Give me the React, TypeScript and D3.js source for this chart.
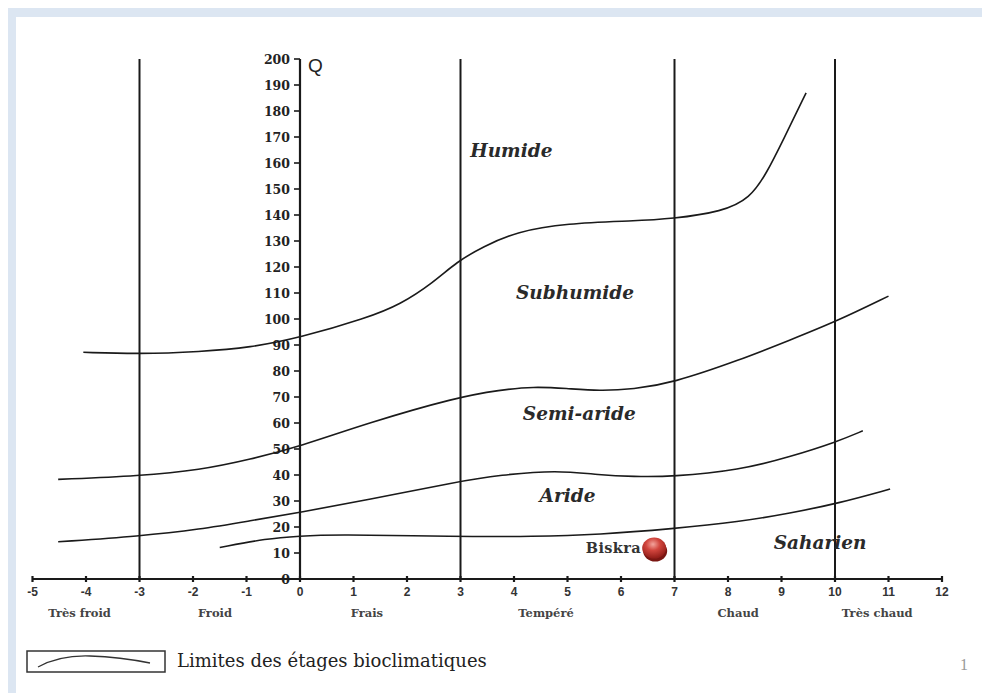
import * as d3 from "d3";

// Emberger climagramme: Q2 versus m (°C)
const xTicks = [-5, -4, -3, -2, -1, 0, 1, 2, 3, 4, 5, 6, 7, 8, 9, 10, 11, 12];
const yTicks = d3.range(0, 201, 10);
const dividers = [-3, 3, 7, 10];

const zoneNames = ["Très froid", "Froid", "Frais", "Tempéré", "Chaud", "Très chaud"];
const zoneAt = [-4.12, -1.59, 1.25, 4.6, 8.19, 10.79];

const stageNames = ["Humide", "Subhumide", "Semi-aride", "Aride", "Saharien"];
const stageM = [3.95, 5.14, 5.22, 5.0, 9.72];
const stageQ = [164.6, 110, 63.5, 32, 14];

// limits between stages
const humideM = [-4.05, -3, -1.87, -0.93, 0, 1.25, 1.87, 2.49, 2.93, 3.42, 4.05, 4.98, 6.23, 6.95, 7.9, 8.41, 8.72, 9.03, 9.46];
const humideQ = [87.2, 86.5, 87.4, 89, 92.8, 100.4, 105.5, 114, 122, 127.8, 133.6, 136.8, 137.7, 138.5, 141.3, 146.4, 156, 168.8, 187];
const subhumideM = [-4.52, -2.99, -1.87, -0.93, 0, 1.25, 2.93, 3.74, 4.36, 4.98, 5.6, 6.23, 6.95, 8.22, 9.16, 10.04, 11.0];
const subhumideQ = [38.3, 39.7, 41.9, 46, 51, 59.9, 69.9, 72.7, 74, 73.3, 72.3, 73, 75.3, 84.2, 91.9, 99.2, 108.8];
const semiAridM = [-4.52, -2.99, -1.87, -0.93, 0, 1.25, 2.93, 3.74, 4.8, 5.6, 6.23, 6.95, 8.22, 9.16, 10.04, 10.52];
const semiAridQ = [14.3, 16.5, 19.1, 22.4, 25.6, 30.4, 37.4, 40, 41.9, 40, 39.4, 39.3, 41.9, 47, 52.8, 57];
const aridM = [-1.5, -0.62, 0, 0.62, 2.93, 4.36, 5.6, 6.95, 8.22, 9.16, 10.06, 11.03];
const aridQ = [12.1, 15.6, 16.5, 17.2, 16.3, 16.3, 17.1, 19.3, 22, 25.3, 29.1, 34.6];

const station = "Biskra";
const stationM = 6.62;
const stationQ = 11.9;

const W = 982;
const H = 693;

export default function App() {
  const x = d3.scaleLinear().domain([-5, 12]).range([32.5, 942]);
  const y = d3.scaleLinear().domain([0, 200]).range([579, 59]);

  const line = d3
    .line<[number, number]>()
    .x((d) => x(d[0]))
    .y((d) => y(d[1]))
    .curve(d3.curveBasis);

  const curves = [
    [humideM, humideQ],
    [subhumideM, subhumideQ],
    [semiAridM, semiAridQ],
    [aridM, aridQ],
  ].map(([ms, qs]) => ms.map((m, i) => [m, qs[i]] as [number, number]));

  const serif = "'DejaVu Serif', 'Liberation Serif', serif";
  const times = "'Liberation Serif', serif";
  const sans = "'Liberation Sans', Arial, sans-serif";

  return (
    <svg
      width={W}
      height={H}
      style={{ position: "absolute", left: 0, top: 0, background: "#fff" }}
    >
      <defs>
        <radialGradient id="dot" cx="45%" cy="32%" r="65%">
          <stop offset="0%" stopColor="#f3a49c" />
          <stop offset="45%" stopColor="#d1453d" />
          <stop offset="100%" stopColor="#951f1a" />
        </radialGradient>
      </defs>

      {/* page frame */}
      <rect x={8} y={8} width={W - 8} height={9} fill="#dce6f2" />
      <rect x={8} y={8} width={8} height={H - 8} fill="#dce6f2" />

      {/* vertical dividers */}
      {dividers.map((d) => (
        <line key={d} x1={x(d)} x2={x(d)} y1={y(200)} y2={y(0)} stroke="#1a1a1a" strokeWidth={2} />
      ))}

      {/* y axis */}
      <line x1={x(0)} x2={x(0)} y1={y(200)} y2={y(0)} stroke="#1a1a1a" strokeWidth={2.2} />
      {yTicks.map((t) => (
        <g key={t}>
          <line x1={x(0) - 6} x2={x(0)} y1={y(t)} y2={y(t)} stroke="#1a1a1a" strokeWidth={1.6} />
          <text
            x={x(0) - 10}
            y={y(t) + 4.5}
            textAnchor="end"
            fontFamily={serif}
            fontWeight="bold"
            fontSize={12.5}
            fill="#222"
          >
            {t}
          </text>
        </g>
      ))}
      <text x={x(0) + 8} y={y(200) + 13} fontFamily={sans} fontSize={19} fill="#222">
        Q
      </text>

      {/* x axis */}
      <line x1={x(-5)} x2={x(12)} y1={y(0)} y2={y(0)} stroke="#1a1a1a" strokeWidth={2} />
      {xTicks.map((t) => (
        <g key={t}>
          <line x1={x(t)} x2={x(t)} y1={y(0) - 3} y2={y(0) + 3} stroke="#1a1a1a" strokeWidth={2.2} />
          <text
            x={x(t)}
            y={y(0) + 17}
            textAnchor="middle"
            fontFamily={sans}
            fontWeight="bold"
            fontSize={12}
            fill="#333"
          >
            {t}
          </text>
        </g>
      ))}
      {zoneNames.map((n, i) => (
        <text
          key={n}
          x={x(zoneAt[i])}
          y={y(0) + 38}
          textAnchor="middle"
          fontFamily={serif}
          fontWeight="bold"
          fontSize={11.5}
          fill="#444"
        >
          {n}
        </text>
      ))}

      {/* stage limits */}
      {curves.map((c, i) => (
        <path key={i} d={line(c) ?? ""} fill="none" stroke="#1a1a1a" strokeWidth={1.6} />
      ))}

      {/* stage names */}
      {stageNames.map((n, i) => (
        <text
          key={n}
          x={x(stageM[i])}
          y={y(stageQ[i]) + 6}
          textAnchor="middle"
          fontFamily={serif}
          fontStyle="italic"
          fontWeight="bold"
          fontSize={18.5}
          fill="#2a2a2a"
        >
          {n}
        </text>
      ))}

      {/* station */}
      <text
        x={x(stationM) - 13}
        y={y(stationQ) + 5}
        textAnchor="end"
        fontFamily={serif}
        fontWeight="bold"
        fontSize={14.5}
        letterSpacing={0.4}
        fill="#333"
      >
        {station}
      </text>
      <ellipse cx={x(stationM) + 1} cy={y(stationQ) + 3} rx={12} ry={10.5} fill="#7a1612" />
      <ellipse cx={x(stationM)} cy={y(stationQ)} rx={12} ry={10.5} fill="url(#dot)" />

      {/* legend */}
      <rect x={27} y={651} width={138} height={21} fill="none" stroke="#333" strokeWidth={1.5} />
      <path d="M38,667 Q60,655 90,656 T150,663" fill="none" stroke="#333" strokeWidth={1.3} />
      <text x={177} y={667} fontFamily={serif} fontSize={18} fill="#222">
        Limites des étages bioclimatiques
      </text>
      <text x={960} y={670} fontFamily={times} fontSize={16} fill="#999">
        1
      </text>
    </svg>
  );
}
